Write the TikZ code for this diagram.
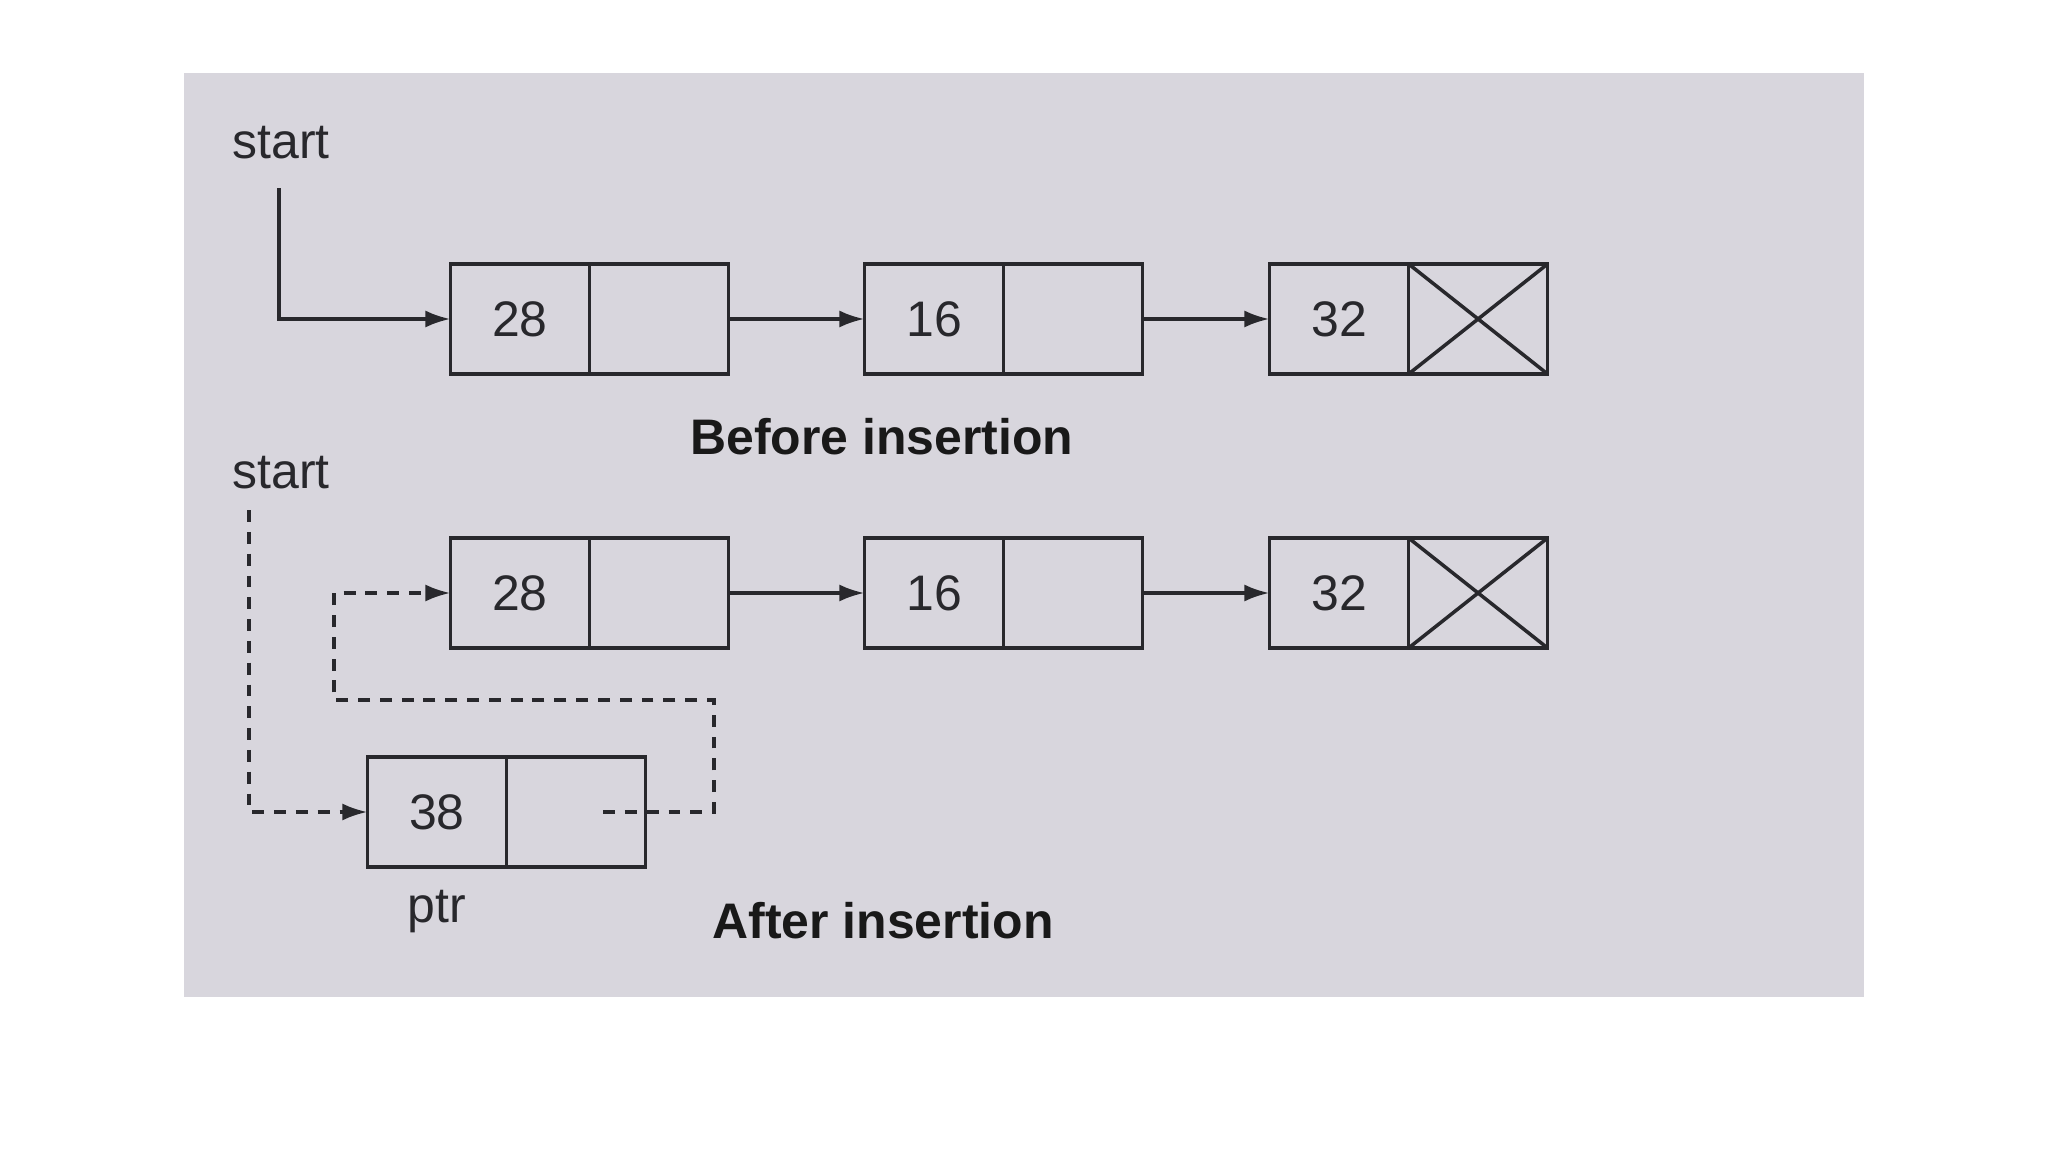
\documentclass[tikz,border=0pt]{standalone}
\usepackage{fontspec}
\setmainfont{Liberation Sans}
\usetikzlibrary{positioning,arrows.meta}
\definecolor{paper}{RGB}{216,214,221}
\definecolor{ink}{RGB}{40,40,44}
\tikzset{
  cell/.style={draw=ink, line width=1pt, minimum width=1.39cm, minimum height=1.1cm,
    inner sep=0pt, outer sep=0pt, text=ink, font=\fontsize{14.2}{17}\selectfont},
  lbl/.style={inner sep=0pt, text=ink, font=\fontsize{14.2}{17}\selectfont},
  caption/.style={inner sep=0pt, text=black!90, font=\fontsize{14.2}{17}\selectfont\bfseries},
  link/.style={draw=ink, line width=1pt},
  dashlink/.style={link, dash pattern=on 3.4pt off 2.8pt}
}
\begin{document}
\begin{tikzpicture}[>={Latex[length=2.5mm,width=1.7mm]}, x=0.01cm, y=-0.01cm]
		\useasboundingbox (0,0) rectangle (2048,1152);
		\fill[paper] (184,73) rectangle (1864,997);
		
		\foreach \r/\y in {1/319,2/593}
		{
			\foreach \n/\v/\x in {a/28/520, b/16/934, c/32/1339}
			{
				\node[cell] (\n\r) at (\x,\y) {\v};
				\node[cell, right=0pt of \n\r] (\n\r-p) {};
			}
			\draw[link,->] (a\r-p) -- (b\r);
			\draw[link,->] (b\r-p) -- (c\r);
			\draw[link] (c\r-p.north west) -- (c\r-p.south east)
			            (c\r-p.south west) -- (c\r-p.north east);
		}
		
		% new node
		\node[cell] (d) at (437,812) {38};
		\node[cell, right=0pt of d] (d-p) {};
		\node[lbl, below=0.22cm of d] (ptr) {ptr};
		
		\node[lbl] (start1) at (281,143) {start};
		\node[lbl] (start2) at (281,473) {start};
		\node[caption] (before) at (882,437) {Before insertion};
		\node[caption] (after) at (883,921) {After insertion};
		
		\draw[link,->] ([xshift=-0.02cm,yshift=-0.28cm]start1.south) |- (a1);
		\draw[dashlink,->] ([xshift=-0.32cm,yshift=-0.2cm]start2.south) |- (d);
		\draw[dashlink,->] ([xshift=0.27cm]d-p.center) -| (714,700) -- (334,700) |- (a2);
\end{tikzpicture}
\end{document}
